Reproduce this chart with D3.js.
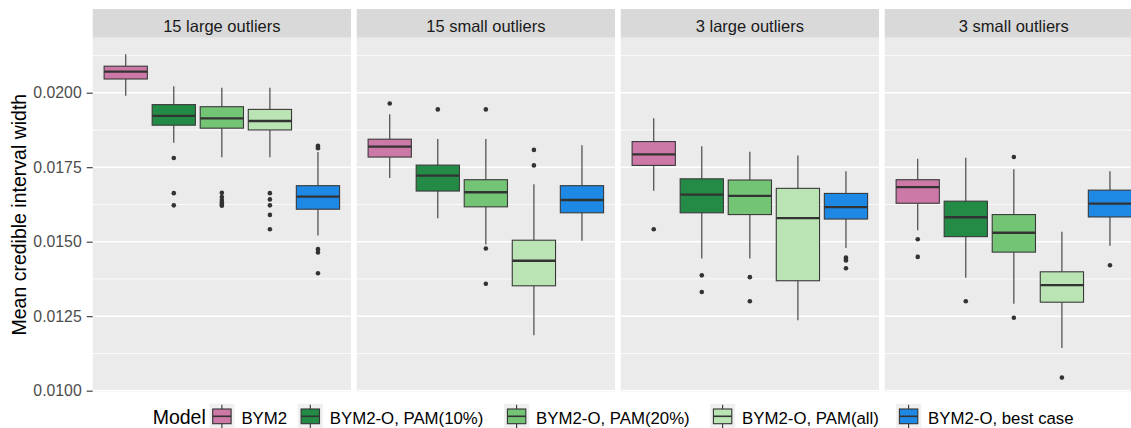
<!DOCTYPE html>
<html>
<head>
<meta charset="utf-8">
<script src="https://cdn.jsdelivr.net/npm/d3@7"></script>
<style>
  html, body { margin: 0; padding: 0; background: #ffffff; }
  svg { display: block; }
</style>
</head>
<body>
<svg id="chart" width="1131" height="428"></svg>
<script>
// ---------------- data ----------------
const facets = ["15 large outliers", "15 small outliers", "3 large outliers", "3 small outliers"];
const models = ["BYM2", "BYM2-O, PAM(10%)", "BYM2-O, PAM(20%)", "BYM2-O, PAM(all)", "BYM2-O, best case"];
const modelColors = ["#CC79A7", "#238B45", "#74C476", "#BAE4B3", "#1E88E5"];
const yTicks = [0.0100, 0.0125, 0.0150, 0.0175, 0.0200];
const yMinor = [0.01125, 0.01375, 0.01625, 0.01875, 0.02125];

// per facet (rows) x per model (columns)
const lowerWhisker = [
  [0.01990, 0.01832, 0.01783, 0.01783, 0.01521],
  [0.01714, 0.01579, 0.01491, 0.01186, 0.01503],
  [0.01671, 0.01444, 0.01444, 0.01236, 0.01479],
  [0.01538, 0.01379, 0.01292, 0.01143, 0.01486]
];
const lowerHinge = [
  [0.02046, 0.01891, 0.01881, 0.01875, 0.01609],
  [0.01784, 0.01670, 0.01617, 0.01352, 0.01597],
  [0.01756, 0.01597, 0.01591, 0.01369, 0.01576],
  [0.01629, 0.01517, 0.01465, 0.01297, 0.01583]
];
const medians = [
  [0.02071, 0.01922, 0.01914, 0.01905, 0.01651],
  [0.01819, 0.01722, 0.01666, 0.01436, 0.01640],
  [0.01793, 0.01658, 0.01654, 0.01579, 0.01616],
  [0.01683, 0.01582, 0.01530, 0.01354, 0.01628]
];
const upperHinge = [
  [0.02089, 0.01960, 0.01953, 0.01944, 0.01688],
  [0.01844, 0.01757, 0.01708, 0.01505, 0.01688],
  [0.01836, 0.01711, 0.01707, 0.01679, 0.01662],
  [0.01708, 0.01636, 0.01591, 0.01399, 0.01673]
];
const upperWhisker = [
  [0.02129, 0.02022, 0.02017, 0.02017, 0.01801],
  [0.01928, 0.01845, 0.01845, 0.01693, 0.01824],
  [0.01914, 0.01820, 0.01802, 0.01789, 0.01736],
  [0.01778, 0.01782, 0.01743, 0.01533, 0.01736]
];
const outliers = [
  [[], [0.01781, 0.01663, 0.01622], [0.01664, 0.01650, 0.01640, 0.01632, 0.01625, 0.01621],
   [0.01663, 0.01642, 0.01622, 0.01590, 0.01542], [0.01822, 0.01818, 0.01814, 0.01475, 0.01464, 0.01394]],
  [[0.01964], [0.01944], [0.01944, 0.01477, 0.01359], [0.01808, 0.01756], []],
  [[0.01542], [0.01387, 0.01331], [0.01381, 0.01300], [], [0.01447, 0.01442, 0.01437, 0.01411]],
  [[0.01508, 0.01449], [0.01300], [0.01784, 0.01245], [0.01044], [0.01421]]
];

// ---------------- layout ----------------
const FONT = "'Liberation Sans', Arial, sans-serif";
const svg = d3.select("#chart");
const panelLeft = 92.7, panelW = 258.3, panelGap = 5.7;
const panelTop = 37.7, panelBottom = 391.7, stripTop = 9;

const y = d3.scaleLinear().domain([0.009966, 0.021846]).range([panelBottom, panelTop]);
const x = d3.scaleBand().domain(models).range([0, panelW]).paddingInner(0.1).paddingOuter(0.2375);
const color = d3.scaleOrdinal().domain(models).range(modelColors);

facets.forEach((f, fi) => {
  const px = panelLeft + fi * (panelW + panelGap);
  const g = svg.append("g").attr("transform", `translate(${px},0)`);
  // strip
  g.append("rect").attr("x", 0).attr("y", stripTop).attr("width", panelW).attr("height", panelTop - stripTop).attr("fill", "#d9d9d9");
  g.append("text").attr("x", panelW / 2).attr("y", 31.5)
    .attr("text-anchor", "middle")
    .attr("font-family", FONT).attr("font-size", 16.5).attr("fill", "#1a1a1a").text(f);
  // panel background
  g.append("rect").attr("x", 0).attr("y", panelTop).attr("width", panelW).attr("height", panelBottom - panelTop).attr("fill", "#ebebeb");
  // grid
  g.selectAll(".minor").data(yMinor).enter().append("line")
    .attr("x1", 0).attr("x2", panelW).attr("y1", d => y(d)).attr("y2", d => y(d))
    .attr("stroke", "#ffffff").attr("stroke-width", 0.8);
  g.selectAll(".major").data(yTicks).enter().append("line")
    .attr("x1", 0).attr("x2", panelW).attr("y1", d => y(d)).attr("y2", d => y(d))
    .attr("stroke", "#ffffff").attr("stroke-width", 1.6);

  models.forEach((m, mi) => {
    const cx = x(m) + x.bandwidth() / 2;
    const bw = x.bandwidth();
    const mg = g.append("g");
    // whiskers
    mg.append("line").attr("x1", cx).attr("x2", cx)
      .attr("y1", y(upperHinge[fi][mi])).attr("y2", y(upperWhisker[fi][mi]))
      .attr("stroke", "#3a3a3a").attr("stroke-width", 1.1);
    mg.append("line").attr("x1", cx).attr("x2", cx)
      .attr("y1", y(lowerHinge[fi][mi])).attr("y2", y(lowerWhisker[fi][mi]))
      .attr("stroke", "#3a3a3a").attr("stroke-width", 1.1);
    // box
    mg.append("rect").attr("x", x(m)).attr("width", bw)
      .attr("y", y(upperHinge[fi][mi])).attr("height", y(lowerHinge[fi][mi]) - y(upperHinge[fi][mi]))
      .attr("fill", color(m)).attr("stroke", "#3a3a3a").attr("stroke-width", 1.1);
    // median
    mg.append("line").attr("x1", x(m)).attr("x2", x(m) + bw)
      .attr("y1", y(medians[fi][mi])).attr("y2", y(medians[fi][mi]))
      .attr("stroke", "#333333").attr("stroke-width", 2.3);
    // outliers
    mg.selectAll("circle").data(outliers[fi][mi]).enter().append("circle")
      .attr("cx", cx).attr("cy", d => y(d)).attr("r", 2.3).attr("fill", "#333333");
  });
});

// y axis
const yAxis = d3.axisLeft(y).tickValues(yTicks).tickFormat(d3.format(".4f")).tickSize(6).tickPadding(5);
const ag = svg.append("g").attr("transform", `translate(${panelLeft},0)`).call(yAxis);
ag.select(".domain").remove();
ag.selectAll(".tick line").attr("stroke", "#333333").attr("stroke-width", 1.1);
ag.selectAll(".tick text").attr("font-family", FONT).attr("font-size", 15.8).attr("fill", "#4d4d4d");

// y axis title
svg.append("text")
  .attr("transform", `translate(25.5,${(panelTop + panelBottom) / 2}) rotate(-90)`)
  .attr("text-anchor", "middle")
  .attr("font-family", FONT).attr("font-size", 19.5).attr("fill", "#000000")
  .text("Mean credible interval width");

// legend
const lg = svg.append("g");
const baseY = 424;
lg.append("text").attr("x", 152.7).attr("y", baseY)
  .attr("font-family", FONT).attr("font-size", 19.5).attr("fill", "#000000").text("Model");
const keyX = [209.3, 297.7, 504, 710, 896];
const keyW = 25.2, keyTop = 403.7, keyH = 25;
models.forEach((m, i) => {
  const kx = keyX[i];
  lg.append("rect").attr("x", kx).attr("y", keyTop).attr("width", keyW).attr("height", keyH).attr("fill", "#f0f0f0");
  lg.append("line").attr("x1", kx + keyW / 2).attr("x2", kx + keyW / 2).attr("y1", keyTop + 1).attr("y2", keyTop + keyH)
    .attr("stroke", "#333333").attr("stroke-width", 1.1);
  lg.append("rect").attr("x", kx + 3.4).attr("y", 409).attr("width", keyW - 6.8).attr("height", 14.7)
    .attr("fill", color(m)).attr("stroke", "#333333").attr("stroke-width", 1.1);
  lg.append("line").attr("x1", kx + 3.4).attr("x2", kx + keyW - 3.4).attr("y1", 416.3).attr("y2", 416.3)
    .attr("stroke", "#333333").attr("stroke-width", 1.6);
  lg.append("text").attr("x", kx + keyW + 6.9).attr("y", baseY)
    .attr("font-family", FONT).attr("font-size", 16.8).attr("fill", "#000000").text(m);
});
</script>
</body>
</html>
